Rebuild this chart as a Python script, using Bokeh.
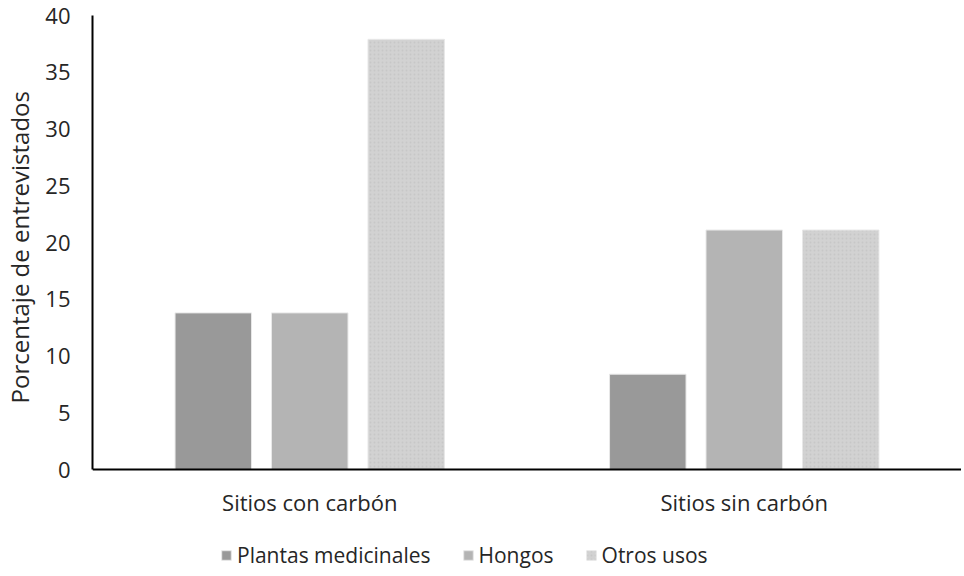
from bokeh.plotting import figure
from bokeh.models import ColumnDataSource, FactorRange, Legend, LegendItem, SingleIntervalTicker, Range1d
from bokeh.transform import dodge
from bokeh.embed import file_html
from bokeh.resources import INLINE

categories = ["Sitios con carbón", "Sitios sin carbón"]
series_names = ["Plantas medicinales", "Hongos", "Otros usos"]
plantas = [13.8, 8.4]
hongos = [13.8, 21.1]
otros = [37.9, 21.1]
y_ticks_max = 40
y_title = "Porcentaje de entrevistados"
colors = ["#999999", "#b4b4b4", "#d2d2d2"]

src = ColumnDataSource(dict(cat=categories, plantas=plantas, hongos=hongos, otros=otros))

FONT = "Open Sans"
TXT = "#262626"
p = figure(x_range=FactorRange(factors=categories, range_padding=0),
           y_range=Range1d(-9.07, y_ticks_max),
           width=961, height=572, output_backend="svg", toolbar_location=None,
           min_border_left=80, min_border_right=0, min_border_top=15, min_border_bottom=0)
p.outline_line_color = None
p.grid.grid_line_color = None

offsets = [-0.222, 0.0, 0.222]
keys = ["plantas", "hongos", "otros"]
renderers = []
for i, (k, off, c) in enumerate(zip(keys, offsets, colors)):
    kw = {}
    if i == 2:
        kw = dict(hatch_pattern="dot", hatch_color="#c2c2c2", hatch_alpha=0.7, hatch_scale=4)
    r = p.vbar(x=dodge("cat", off, range=p.x_range), top=k, width=0.176, source=src,
               fill_color=c, line_color="#e8e8e8", line_width=1, **kw)
    renderers.append(r)

p.yaxis.ticker = SingleIntervalTicker(interval=5)
p.yaxis.bounds = (0, y_ticks_max)
p.xaxis.fixed_location = 0
for ax in (p.xaxis, p.yaxis):
    ax.axis_line_color = "black"
    ax.axis_line_width = 2
    ax.major_tick_line_color = None
    ax.minor_tick_line_color = None
    ax.major_label_text_font = FONT
    ax.major_label_text_color = TXT
p.yaxis.major_label_text_font_size = "22px"
p.xaxis.major_label_text_font_size = "22px"
p.yaxis.major_label_standoff = 16
p.xaxis.major_label_standoff = 11
# leading no-break spaces lift the centred title up to the 0–40 part of the axis
p.yaxis.axis_label = "\u00a0" * 15 + y_title
p.yaxis.axis_label_text_font = FONT
p.yaxis.axis_label_text_font_size = "24px"
p.yaxis.axis_label_text_font_style = "normal"
p.yaxis.axis_label_text_color = TXT
p.yaxis.axis_label_standoff = 6

legend = Legend(items=[LegendItem(label=n, renderers=[r]) for n, r in zip(series_names, renderers)],
                orientation="horizontal", location=(128, 3),
                label_text_font=FONT, label_text_font_size="21px", label_text_color=TXT,
                glyph_width=12, glyph_height=12, label_standoff=5, spacing=31,
                border_line_color=None, background_fill_alpha=0, margin=0, padding=0)
p.add_layout(legend, "center")

open("out.html", "w").write(file_html(p, INLINE))
